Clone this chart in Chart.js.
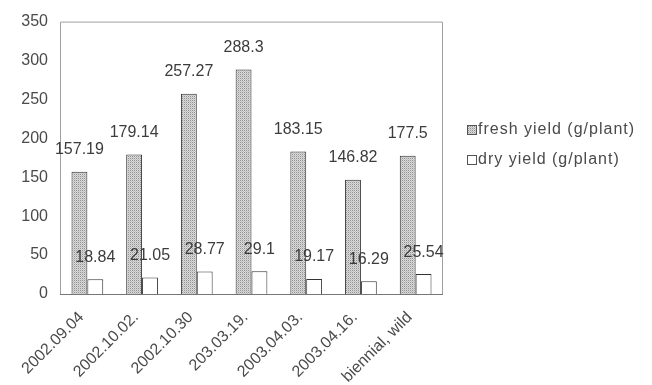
<!DOCTYPE html>
<html>
<head>
<meta charset="utf-8">
<script src="https://cdn.jsdelivr.net/npm/chart.js@4"></script>
<style>
  html, body { margin: 0; padding: 0; background: #fff; }
  #wrap { width: 652px; height: 385px; position: relative; }
</style>
</head>
<body>
<div id="wrap"><canvas id="chart"></canvas></div>
<script>
const dates = ["2002.09.04", "2002.10.02.", "2002.10.30", "203.03.19.", "2003.04.03.", "2003.04.16.", "biennial, wild"]
const freshYield = [157.19, 179.14, 257.27, 288.3, 183.15, 146.82, 177.5]
const dryYield = [18.84, 21.05, 28.77, 29.1, 19.17, 16.29, 25.54]
const seriesNames = ["fresh yield (g/plant)", "dry yield (g/plant)"]
const yTicks = [0, 50, 100, 150, 200, 250, 300, 350]

const textColor = "#4a4a4a"
const fontFamily = "'Liberation Sans', Arial, Helvetica, sans-serif"

// dotted grey fill like the scanned hatch
function makeDots() {
  const c = document.createElement("canvas")
  c.width = 2
  c.height = 2
  const g = c.getContext("2d")
  g.fillStyle = "#dadada"
  g.fillRect(0, 0, 2, 2)
  g.fillStyle = "#929292"
  g.fillRect(0, 0, 1, 1)
  g.fillStyle = "#c0c0c0"
  g.fillRect(1, 1, 1, 1)
  return g.createPattern(c, "repeat")
}
const dots = makeDots()

const frame = {
  id: "frame",
  beforeDatasetsDraw(chart) {
    const { ctx, chartArea: a } = chart
    ctx.save()
    ctx.strokeStyle = "#a0a0a0"
    ctx.lineWidth = 1
    ctx.beginPath()
    ctx.moveTo(a.left + 0.5, a.bottom)
    ctx.lineTo(a.left + 0.5, a.top + 0.5)
    ctx.lineTo(a.right - 0.5, a.top + 0.5)
    ctx.lineTo(a.right - 0.5, a.bottom)
    ctx.stroke()
    ctx.strokeStyle = "#777"
    ctx.beginPath()
    ctx.moveTo(a.left, a.bottom + 0.5)
    ctx.lineTo(a.right, a.bottom + 0.5)
    ctx.stroke()
    ctx.restore()
  }
}

const valueLabels = {
  id: "valueLabels",
  afterDatasetsDraw(chart) {
    const ctx = chart.ctx
    ctx.save()
    ctx.font = "16px " + fontFamily
    ctx.fillStyle = "#3c3c3c"
    ctx.textAlign = "center"
    ctx.textBaseline = "middle"
    chart.data.datasets.forEach((ds, i) => {
      chart.getDatasetMeta(i).data.forEach((bar, j) => {
        ctx.fillText(String(ds.data[j]), bar.x, bar.y - 22)
      })
    })
    ctx.restore()
  }
}

const sideLegend = {
  id: "sideLegend",
  afterDraw(chart) {
    const ctx = chart.ctx
    const fills = [dots, "#fff"]
    ctx.save()
    ctx.font = "16px " + fontFamily
    ctx.letterSpacing = "1px"
    ctx.textBaseline = "middle"
    seriesNames.forEach((name, i) => {
      const y = 130 + i * 30
      ctx.fillStyle = fills[i]
      ctx.fillRect(467, y - 5, 9, 9)
      ctx.strokeStyle = "#555"
      ctx.lineWidth = 1
      ctx.strokeRect(467.5, y - 4.5, 9, 9)
      ctx.fillStyle = textColor
      ctx.fillText(name, 478, y)
    })
    ctx.restore()
  }
}

new Chart(document.getElementById("chart"), {
  type: "bar",
  data: {
    labels: dates,
    datasets: [
      {
        label: seriesNames[0],
        data: freshYield,
        backgroundColor: dots,
        borderColor: "#333",
        borderWidth: 1,
        categoryPercentage: 0.58,
        barPercentage: 1
      },
      {
        label: seriesNames[1],
        data: dryYield,
        backgroundColor: "#fff",
        borderColor: "#333",
        borderWidth: 1,
        categoryPercentage: 0.58,
        barPercentage: 1
      }
    ]
  },
  options: {
    responsive: true,
    maintainAspectRatio: false,
    animation: false,
    layout: {
      padding: { top: 18, right: 209, left: 0, bottom: 0 }
    },
    plugins: {
      legend: { display: false },
      tooltip: { enabled: false }
    },
    scales: {
      x: {
        grid: { display: false, drawTicks: false },
        border: { display: false },
        ticks: {
          color: textColor,
          font: { size: 16, family: fontFamily },
          maxRotation: 45,
          minRotation: 45,
          padding: 14,
          labelOffset: -6
        },
        afterFit(scale) {
          scale.height = 91
        }
      },
      y: {
        min: 0,
        max: 350,
        grid: { display: false, drawTicks: false },
        border: { display: false },
        afterBuildTicks(scale) {
          scale.ticks = yTicks.map(v => ({ value: v }))
        },
        ticks: {
          color: textColor,
          font: { size: 16, family: fontFamily },
          padding: 12
        },
        afterFit(scale) {
          scale.width = 60
        }
      }
    }
  },
  plugins: [frame, valueLabels, sideLegend]
})
</script>
</body>
</html>
